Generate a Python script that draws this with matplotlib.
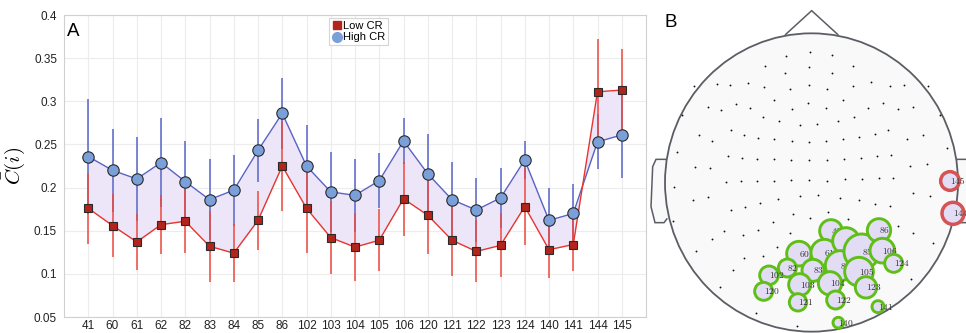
import numpy as np
import matplotlib.pyplot as plt
from matplotlib.patches import Ellipse, Circle, Polygon

plt.rcParams['font.family'] = ['Liberation Sans', 'DejaVu Sans']
plt.rcParams['mathtext.fontset'] = 'cm'

# Mean clustering coefficient per channel, low vs high CR groups
channels = ['41', '60', '61', '62', '82', '83', '84', '85', '86', '102', '103', '104',
            '105', '106', '120', '121', '122', '123', '124', '140', '141', '144', '145']
high_mean = [0.236, 0.220, 0.210, 0.229, 0.207, 0.186, 0.197, 0.243, 0.286, 0.225, 0.195, 0.191,
             0.208, 0.254, 0.216, 0.186, 0.174, 0.188, 0.232, 0.162, 0.170, 0.253, 0.261]
high_err = [0.067, 0.048, 0.049, 0.052, 0.047, 0.047, 0.041, 0.036, 0.041, 0.047, 0.046, 0.042,
            0.032, 0.027, 0.046, 0.044, 0.037, 0.035, 0.022, 0.037, 0.034, 0.032, 0.050]
low_mean = [0.176, 0.156, 0.137, 0.157, 0.161, 0.132, 0.124, 0.162, 0.225, 0.176, 0.142, 0.131,
            0.139, 0.187, 0.168, 0.139, 0.126, 0.133, 0.178, 0.128, 0.134, 0.311, 0.313]
low_err = [0.041, 0.036, 0.032, 0.034, 0.037, 0.041, 0.034, 0.034, 0.052, 0.052, 0.042, 0.039,
           0.036, 0.043, 0.045, 0.042, 0.036, 0.037, 0.045, 0.033, 0.031, 0.061, 0.048]

# Sensor layout (2D projection, layout units, y pointing down)
elec_x = [510, 438, 577,
          375, 508, 435, 577, 638,
          162, 230, 270, 324, 373, 450, 506, 560, 640, 692, 751, 793, 865,
          125, 204, 244, 289, 329, 402, 455, 504, 557, 608, 684, 728, 774, 820, 900,
          368, 418, 480, 531, 595, 643,
          176, 216, 272, 311, 355, 403, 455, 506, 558, 608, 658, 705, 743, 802, 848, 920,
          110, 265, 305, 351, 403, 453, 507, 560, 612, 663, 711, 754, 811, 861,
          165, 211,
          258, 302, 350, 403, 453, 506, 562, 614, 667, 716, 760,
          103, 159, 205, 272, 315, 360, 415, 481, 535, 600, 656, 706, 751, 820, 870,
          98, 253, 309, 354, 398, 458, 510, 563, 625, 774, 820, 217, 449,
          168, 311, 368, 410, 878,
          280, 240, 812,
          348, 471]
elec_y = [155, 168, 166,
          198, 202, 218, 218, 197,
          259, 251, 255, 248, 260, 268, 255, 266, 259, 246, 258, 255, 259,
          346, 321, 330, 313, 324, 300, 326, 309, 323, 300, 324, 309, 327, 322, 345,
          352, 363, 374, 373, 363, 350,
          405, 424, 391, 405, 413, 418, 422, 425, 422, 417, 412, 403, 390, 418, 405, 443,
          455, 467, 473, 477, 478, 481, 481, 481, 478, 474, 469, 465, 497, 491,
          502, 504,
          545, 543, 544, 542, 541, 540, 542, 537, 537, 535, 535,
          560, 601, 591, 631, 620, 609, 597, 587, 586, 593, 601, 613, 618, 580, 587,
          662, 692, 705, 689, 665, 641, 655, 637, 657, 677, 700, 718, 700,
          752, 774, 768, 740, 730,
          810, 862, 837,
          938, 977]

# Highlighted channels on the scalp map
site_x = [573, 477, 553, 618, 442, 519, 601, 665, 717, 387, 479, 570,
          657, 727, 371, 474, 587, 678, 761, 595, 714, 939, 930]
site_y = [693, 761, 758, 723, 804, 811, 797, 755, 691, 826, 854, 850,
          815, 752, 874, 907, 900, 862, 790, 968, 920, 640, 543]
site_r = [34, 37, 40, 40, 27, 33, 45, 53, 35, 28, 33, 35,
          43, 37, 27, 26, 27, 32, 27, 16, 18, 33, 28]

fig = plt.figure(figsize=(9.66, 3.33), dpi=100)

# ---- Panel A ----
ax = fig.add_axes([64 / 966, 16 / 333, 582 / 966, 302 / 333])
x = np.arange(1, len(channels) + 1)
hm, he = np.array(high_mean), np.array(high_err)
lm, le = np.array(low_mean), np.array(low_err)

ax.fill_between(x, lm, hm, color='#ece6f8', lw=0, zorder=1)
ax.errorbar(x, hm, yerr=he, fmt='none', ecolor='#4f5cc4', elinewidth=1.3, alpha=0.8, zorder=2)
ax.errorbar(x, lm, yerr=le, fmt='none', ecolor='#ec4a40', elinewidth=1.3, alpha=0.85, zorder=2)
ax.plot(x, hm, color='#5863c6', lw=1.0, zorder=3)
ax.plot(x, lm, color='#e8342e', lw=1.0, zorder=3)
ax.plot(x, lm, 's', ms=6.3, mfc='#b3241c', mec='#2a2a2a', mew=0.8, zorder=4)
ax.plot(x, hm, 'o', ms=8.2, mfc='#7b9fd8', mec='#2a2a2a', mew=0.8, zorder=5)

# legend handles without lines
ax.plot([], [], 's', ms=6, color='#b3241c', label='Low CR')
ax.plot([], [], 'o', ms=7, color='#7b9fd8', label='High CR')
leg = ax.legend(loc='upper left', bbox_to_anchor=(0.455, 0.99), fontsize=8,
                handletextpad=0.0, handlelength=1.0, borderpad=0.25, labelspacing=0.15,
                borderaxespad=0.0, fancybox=False, framealpha=1, edgecolor='#d5d5d5')
leg.get_frame().set_linewidth(0.8)

ax.set_xlim(0, len(channels) + 1)
ax.set_ylim(0.05, 0.4)
ax.set_xticks(x)
ax.set_xticklabels(channels)
yt = np.arange(0.05, 0.401, 0.05)
ax.set_yticks(yt)
ax.set_yticklabels(['%g' % round(v, 2) for v in yt])
ax.tick_params(length=0, labelsize=8.5, colors='#222222', pad=5)
ax.tick_params(axis='x', pad=2.5)
ax.grid(True, color='#ececec', lw=0.8)
ax.set_axisbelow(True)
for s in ax.spines.values():
    s.set_color('#d0d0d0')
    s.set_linewidth(0.8)
ax.set_ylabel(r'$\bar{C}(i)$', fontsize=15, labelpad=5)
ax.text(0.005, 0.975, 'A', transform=ax.transAxes, fontsize=13.5, va='top', ha='left')

# ---- Panel B ----
bx = fig.add_axes([640 / 966, 0, 326 / 966, 1])
bx.set_xlim(0, 978)
bx.set_ylim(999, 0)
bx.axis('off')

hc_x, hc_y, hw, hh = 514.5, 547.5, 879, 895
edge = '#5a5e64'
# nose
bx.add_patch(Polygon([[435, 105], [515, 32], [595, 105]], closed=False, fill=False,
                     ec=edge, lw=1.1, zorder=1))
# ears
ear = [(78, 478), (48, 478), (38, 500), (33, 620), (45, 668), (72, 668), (82, 655)]
bx.add_patch(Polygon(ear, closed=False, fc='#f9f9f9', ec=edge, lw=1.1, zorder=1))
bx.add_patch(Polygon([(2 * hc_x - px, py) for px, py in ear], closed=False,
                     fc='#f9f9f9', ec=edge, lw=1.1, zorder=1))
bx.add_patch(Ellipse((hc_x, hc_y), hw, hh, fc='#f9f9f9', ec=edge, lw=1.3, zorder=2))
bx.scatter(elec_x, elec_y, s=1.8, color='#111111', zorder=3, lw=0)

for i, ch in enumerate(channels):
    red = ch in ('144', '145')
    z = 4 + i * 2
    bx.add_patch(Circle((site_x[i], site_y[i]), site_r[i], fc='#e3dcf5',
                        ec='#d65353' if red else '#5fbf18',
                        lw=2.5 if red else 2.1, zorder=z))
    bx.text(site_x[i], site_y[i], r'$\mathrm{%s}$' % ch, fontsize=6.8, color='#333333',
            ha='left', va='center', zorder=z + 1)

bx.text(72, 42, 'B', fontsize=13.5, va='top', ha='left')

fig.savefig('out.png', dpi=100)
